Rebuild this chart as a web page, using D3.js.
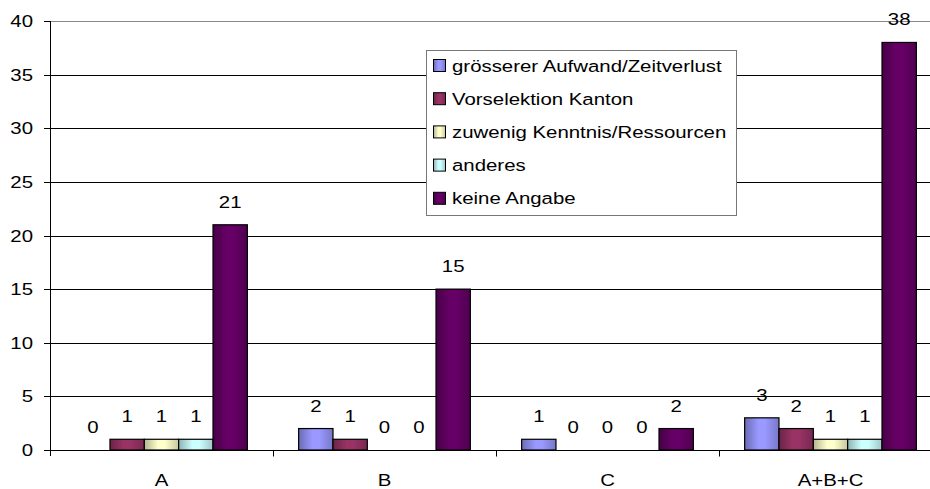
<!DOCTYPE html>
<html lang="en">
  <head>
    <meta charset="utf-8">
    <title>Chart</title>
    <script src="https://d3js.org/d3.v7.min.js"></script>
    <style>
      body { margin: 0; background: #fff; }
      text { font-family: "Liberation Sans", Arial, sans-serif; fill: #000; font-size: 17px; }
    </style>
  </head>
  <body>
    <svg width="930" height="489"></svg>
    <script type="text/javascript">
      // data
      var categories = ["A", "B", "C", "A+B+C"];
      var seriesNames = ["grösserer Aufwand/Zeitverlust", "Vorselektion Kanton",
                         "zuwenig Kenntnis/Ressourcen", "anderes", "keine Angabe"];
      var aufwand   = [0, 2, 1, 3];
      var kanton    = [1, 1, 0, 2];
      var kenntnis  = [1, 0, 0, 1];
      var anderes   = [1, 0, 0, 1];
      var keine     = [21, 15, 2, 38];
      var colors = ["#9999ff", "#993366", "#ffffcc", "#ccffff", "#660066"];
      var yTicks = [0, 5, 10, 15, 20, 25, 30, 35, 40];

      var series = [aufwand, kanton, kenntnis, anderes, keine];

      var svg = d3.select("svg"),
          mLeft = 50, mTop = 21, mBottom = 450, mRight = 942,
          stretch = 1.2; // the original text is drawn a bit wide

      // move x/y into a transform so the text can be widened
      function widen(sel) {
        sel.each(function() {
          var t = d3.select(this);
          var tx = +t.attr("x") || 0, ty = +t.attr("y") || 0;
          t.attr("x", null).attr("y", null)
           .attr("transform", "translate(" + tx + "," + ty + ") scale(" + stretch + ",1)");
        });
      }

      var y = d3.scaleLinear().domain([0, 40]).range([mBottom, mTop]);
      var x0 = d3.scaleBand().domain(categories).range([mLeft, mRight])
          .paddingInner(0.23).paddingOuter(0.115);
      var x1 = d3.scaleBand().domain(d3.range(series.length)).range([0, x0.bandwidth()]);

      // gradients for the shaded bars
      var defs = svg.append("defs");
      colors.forEach(function(c, i) {
        var g = defs.append("linearGradient").attr("id", "grad" + i)
            .attr("x1", "0%").attr("x2", "100%").attr("y1", "0%").attr("y2", "0%");
        g.append("stop").attr("offset", "0%").attr("stop-color", d3.color(c).darker(1));
        g.append("stop").attr("offset", "40%").attr("stop-color", c);
        g.append("stop").attr("offset", "60%").attr("stop-color", c);
        g.append("stop").attr("offset", "100%").attr("stop-color", d3.color(c).darker(0.7));
      });

      // gridlines
      svg.append("g").selectAll("line").data(yTicks.filter(function(d) { return d > 0; }))
        .enter().append("line")
          .attr("x1", mLeft).attr("x2", 930)
          .attr("y1", function(d) { return Math.round(y(d)) + 0.5; })
          .attr("y2", function(d) { return Math.round(y(d)) + 0.5; })
          .attr("stroke", function(d) { return d === 40 ? "#888" : "#000"; });

      // y axis
      var yAxis = svg.append("g");
      yAxis.append("line")
          .attr("x1", mLeft + 0.5).attr("x2", mLeft + 0.5)
          .attr("y1", mTop).attr("y2", mBottom + 6).attr("stroke", "#000");
      yAxis.selectAll("line.tick").data(yTicks).enter().append("line")
          .attr("x1", mLeft - 6).attr("x2", mLeft)
          .attr("y1", function(d) { return Math.round(y(d)) + 0.5; })
          .attr("y2", function(d) { return Math.round(y(d)) + 0.5; })
          .attr("stroke", "#000");
      yAxis.selectAll("text").data(yTicks).enter().append("text")
          .attr("x", 33)
          .attr("y", function(d) { return y(d) + 6; })
          .attr("text-anchor", "end")
          .text(function(d) { return d; })
          .call(widen);

      // bars
      var groups = svg.append("g").selectAll("g").data(categories).enter().append("g")
          .attr("transform", function(d) { return "translate(" + x0(d) + ",0)"; });

      function rowOf(d, ci) {
        return series.map(function(s, si) { return { s: si, v: s[ci] }; });
      }

      groups.selectAll("rect")
        .data(function(d, ci) { return rowOf(d, ci).filter(function(e) { return e.v > 0; }); })
        .enter().append("rect")
          .attr("x", function(d) { return x1(d.s); })
          .attr("y", function(d) { return y(d.v); })
          .attr("width", x1.bandwidth())
          .attr("height", function(d) { return mBottom - y(d.v); })
          .attr("fill", function(d) { return "url(#grad" + d.s + ")"; })
          .attr("stroke", "#000").attr("stroke-width", 1.2);

      groups.selectAll("text.val")
        .data(rowOf)
        .enter().append("text").attr("class", "val")
          .attr("x", function(d) { return x1(d.s) + x1.bandwidth() / 2; })
          .attr("y", function(d) { return y(d.v) - 17; })
          .attr("text-anchor", "middle")
          .text(function(d) { return d.v; })
          .call(widen);

      // x axis
      var step = x0.step();
      var xAxis = svg.append("g").attr("transform", "translate(0," + (mBottom + 0.5) + ")");
      xAxis.append("line").attr("x1", mLeft).attr("x2", 930).attr("stroke", "#000");
      xAxis.selectAll("line.tick").data(categories).enter().append("line")
          .attr("x1", function(d) { return Math.round(x0(d) - x0.paddingOuter() * step + step) + 0.5; })
          .attr("x2", function(d) { return Math.round(x0(d) - x0.paddingOuter() * step + step) + 0.5; })
          .attr("y1", 0).attr("y2", 6).attr("stroke", "#000");
      xAxis.selectAll("text").data(categories).enter().append("text")
          .attr("x", function(d) { return x0(d) + x0.bandwidth() / 2; })
          .attr("y", 35)
          .attr("text-anchor", "middle")
          .text(function(d) { return d; })
          .call(widen);

      // legend
      var legend = svg.append("g").attr("transform", "translate(426,50)");
      legend.append("rect").attr("x", 0.5).attr("y", 0.5).attr("width", 310).attr("height", 165)
          .attr("fill", "#fff").attr("stroke", "#777");
      var item = legend.selectAll("g.item").data(seriesNames).enter().append("g")
          .attr("transform", function(d, i) { return "translate(7," + (15 + i * 33.2) + ")"; });
      item.append("rect").attr("x", 0.5).attr("y", -5.5).attr("width", 12).attr("height", 12)
          .attr("fill", function(d, i) { return "url(#grad" + i + ")"; })
          .attr("stroke", "#000");
      item.append("text").attr("x", 19).attr("y", 6.5)
          .text(function(d) { return d; })
          .call(widen);
    </script>
  </body>
</html>
